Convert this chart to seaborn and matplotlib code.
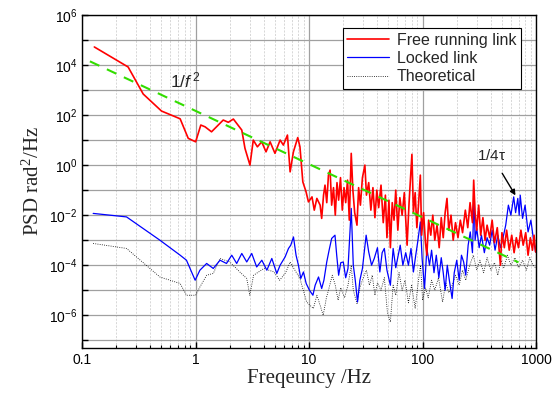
import numpy as np
import pandas as pd
import seaborn as sns
import matplotlib.pyplot as plt

# values: frequency (Hz) and log10 of PSD (rad^2/Hz)
free_f = [0.128, 0.254, 0.345, 0.50, 0.73, 0.86, 1.0, 1.11, 1.21, 1.38, 1.75, 1.94, 2.15, 2.55, 2.72,
          3.01, 3.22, 3.5, 3.82, 4.17, 4.53, 5.0, 5.55, 5.93, 6.44, 6.8, 7.27, 7.94, 8.3, 8.8, 9.4,
          9.86, 10.6, 11.1, 11.7, 12.5, 12.9, 13.4, 13.8, 14.3, 14.8, 15.3, 15.8, 16.4, 17.0, 17.6,
          18.2, 18.9, 19.6, 20.3, 21.0, 21.8, 22.6, 23.5, 24.3, 25.2, 26.4, 27.3, 28.3, 29.5, 31.0,
          32.0, 33.5, 35.0, 36.5, 38.0, 39.5, 41.0, 43.0, 45.0, 47.0, 48.5, 50.5, 52.0, 54.0, 56.0,
          58.0, 60.5, 63.0, 66.0, 69.0, 73.0, 76.0, 80.5, 83.0, 86.0, 89.0, 92.0, 95.5, 98.0, 102,
          106, 109, 113, 118, 123, 128, 134, 140, 146, 152, 158, 164, 170, 178, 186, 195, 205, 215,
          225, 238, 250, 262, 275, 282, 290, 300, 312, 325, 340, 355, 370, 390, 410, 430, 455, 485,
          500, 525, 550, 580, 610, 640, 670, 700, 735, 770, 810, 850, 890, 930, 960, 990]
free_logp = [4.72, 3.92, 2.84, 2.16, 1.85, 1.07, 0.93, 1.6, 1.53, 1.33, 1.8, 1.71, 1.84, 1.4, 0.67,
             0.0, 1.0, 0.73, 0.93, 0.53, 0.93, 0.47, 1.0, 0.8, 1.2, -0.27, 0.53, 1.1, 0.73, -0.67, -1.07,
             -1.47, -1.27, -1.8, -1.33, -1.6, -2.13, -1.2, -0.8, -1.5, -0.4, -0.2, -1.6, -0.9, -2.0, -0.7,
             -1.4, -0.5, -1.8, -0.9, -1.5, -0.6, -2.2, 0.47, -1.0, -1.9, -2.4, -0.9, -1.6, -0.5, 0.0,
             -1.2, -0.7, -1.8, -0.9, -2.1, -1.0, -1.7, -0.8, -2.3, -1.2, -2.9, -1.4, -3.3, -1.5, -2.2,
             -1.0, -2.6, -1.3, -2.0, -1.1, -3.2, -1.5, 0.43, -1.9, -1.1, -2.5, -1.6, -0.4, -2.8, -1.9,
             -3.1, -3.6, -2.2, -2.8, -2.0, -3.0, -2.4, -3.3, -2.1, -2.9, -1.9, -1.33, -2.6, -2.0, -3.0,
             -2.3, -2.9, -2.2, -2.7, -1.8, -2.5, -1.5, -2.3, -0.6, -1.9, -2.6, -1.6, -2.8, -2.1, -3.0,
             -2.4, -2.9, -2.2, -3.1, -2.5, -4.0, -2.7, -3.3, -2.6, -3.4, -2.8, -3.5, -2.9, -3.3, -2.6,
             -3.2, -2.7, -3.6, -2.9, -3.4, -2.8, -3.47]

locked_f = [0.125, 0.246, 0.484, 0.73, 0.83, 0.99, 1.09, 1.25, 1.43, 1.64, 1.87, 2.08, 2.3, 2.55,
            2.82, 3.12, 3.45, 3.83, 4.24, 4.69, 5.19, 5.55, 6.14, 6.58, 6.89, 7.28, 7.67, 8.05, 8.44,
            8.91, 9.42, 10.07, 10.8, 11.3, 12.1, 12.9, 13.5, 14.3, 15.0, 15.8, 16.9, 17.5, 18.2, 19.0,
            20.0, 21.0, 22.0, 23.5, 24.5, 25.5, 26.7, 28.0, 29.5, 31.8, 33.5, 35.5, 37.5, 40.0, 42.0,
            44.0, 46.0, 48.5, 52.0, 55.0, 58.0, 63.5, 67.0, 71.0, 75.0, 79.0, 83.0, 87.0, 91.0, 95.5,
            99.0, 104, 109, 115, 120, 126, 132, 139, 146, 152, 158, 165, 172, 182, 190, 200, 210, 220,
            230, 240, 252, 263, 275, 285, 290, 300, 315, 330, 350, 370, 390, 410, 435, 460, 485, 510,
            540, 570, 600, 635, 660, 690, 710, 725, 760, 800, 850, 900, 950, 990]
locked_logp = [-1.93, -2.07, -3.0, -3.6, -3.8, -4.6, -4.2, -3.93, -4.13, -3.8, -3.93, -3.6, -3.93, -3.53,
               -3.87, -3.53, -4.07, -3.8, -4.2, -3.73, -4.33, -4.0, -3.67, -3.33, -3.2, -2.87, -3.6, -4.0,
               -4.53, -4.27, -4.73, -5.0, -5.2, -4.8, -4.47, -4.93, -4.6, -3.87, -3.4, -2.93, -2.8, -3.6,
               -4.4, -3.9, -3.87, -4.5, -4.13, -1.73, -4.0, -4.6, -5.47, -4.6, -4.13, -2.8, -3.47, -4.0,
               -3.73, -3.3, -4.27, -3.5, -3.33, -4.2, -4.8, -3.33, -4.1, -3.2, -4.0, -3.5, -4.0, -3.33,
               -4.27, -3.6, -3.0, -2.27, -3.73, -4.93, -3.33, -4.0, -3.4, -4.3, -3.6, -4.5, -3.7, -4.3,
               -5.0, -4.0, -4.6, -5.33, -4.3, -3.8, -4.6, -3.6, -3.87, -4.4, -3.2, -2.67, -3.5, -1.0,
               -3.0, -2.53, -3.3, -2.8, -3.5, -2.9, -3.2, -2.6, -3.4, -2.8, -3.3, -2.93, -2.4, -1.6,
               -2.0, -1.27, -1.9, -1.33, -2.0, -1.2, -2.13, -1.6, -2.67, -2.2, -3.0, -3.47]

theory_f = [0.125, 0.246, 0.484, 0.73, 0.83, 1.0, 1.09, 1.25, 1.43, 1.64, 2.0, 2.45, 2.82, 3.0, 3.24,
            4.0, 4.9, 5.5, 6.2, 6.8, 7.5, 8.3, 9.5, 10.9, 11.7, 12.5, 13.3, 14.2, 15.0, 16.0, 17.0,
            18.0, 19.0, 20.5, 22.0, 23.5, 24.5, 26.4, 28, 30, 32, 34, 36, 38, 40, 43, 46, 49, 52, 55,
            58, 62, 66, 70, 75, 80, 86, 92, 96, 100, 106, 112, 120, 128, 138, 150, 160, 170, 182, 195,
            210, 225, 240, 260, 280, 300, 320, 345, 370, 400, 430, 460, 490, 520, 560, 600, 650, 700,
            760, 820, 880, 940, 990]
theory_logp = [-3.13, -3.33, -4.47, -4.73, -5.2, -5.2, -4.87, -4.4, -4.33, -3.73, -3.87, -4.27, -4.53,
               -5.2, -4.4, -4.13, -4.27, -4.6, -4.3, -3.87, -4.2, -4.53, -5.47, -5.73, -5.2, -5.6, -6.0,
               -5.3, -4.9, -4.4, -4.8, -5.4, -4.9, -5.3, -4.8, -4.0, -5.0, -5.53, -4.9, -4.5, -4.2, -4.8,
               -4.4, -5.2, -4.7, -5.0, -4.5, -5.9, -6.27, -4.8, -5.2, -4.3, -5.0, -4.6, -5.5, -4.8, -5.73,
               -4.6, -4.0, -5.4, -4.9, -5.3, -4.6, -5.0, -4.5, -5.47, -4.7, -5.1, -4.8, -4.4, -4.8, -4.2,
               -4.6, -4.0, -3.6, -4.2, -3.8, -4.3, -3.7, -4.2, -3.9, -4.4, -3.8, -4.1, -3.6, -4.0, -3.7,
               -4.1, -3.8, -4.2, -3.7, -4.0, -4.1]

# 1/f^2 guide line end points
guide_f = [0.117, 700]
guide_psd = [1.4e4, 1.3e-4]

sns.set_style("ticks")
plt.rcParams['font.family'] = ['Liberation Sans', 'DejaVu Sans']
plt.rcParams['mathtext.fontset'] = 'custom'
plt.rcParams['mathtext.rm'] = 'Liberation Sans'
plt.rcParams['mathtext.it'] = 'Liberation Sans:italic'

free = pd.DataFrame({'f': free_f, 'psd': 10 ** np.array(free_logp)})
locked = pd.DataFrame({'f': locked_f, 'psd': 10 ** np.array(locked_logp)})
theory = pd.DataFrame({'f': theory_f, 'psd': 10 ** np.array(theory_logp)})
guide = pd.DataFrame({'f': guide_f, 'psd': guide_psd})

fig = plt.figure(figsize=(5.59, 3.93), dpi=100)
ax = fig.add_axes([0.147, 0.115, 0.812, 0.847])
ax.set_xscale('log')
ax.set_yscale('log')

sns.lineplot(data=theory, x='f', y='psd', color='black', lw=0.6, ls=':', estimator=None, ax=ax,
             label='Theoretical')
sns.lineplot(data=locked, x='f', y='psd', color='#0000ff', lw=0.9, estimator=None, ax=ax,
             label='Locked link')
sns.lineplot(data=free, x='f', y='psd', color='#ff0000', lw=1.2, estimator=None, ax=ax,
             label='Free running link')
sns.lineplot(data=guide, x='f', y='psd', color='#33dd00', lw=1.5, ls=(0, (5, 4)), estimator=None,
             ax=ax, legend=False)

ax.set_xlim(0.1, 1000)
ax.set_ylim(10 ** -7.3, 1e6)

ax.set_xticks([0.1, 1, 10, 100, 1000])
ax.set_xticklabels(['0.1', '1', '10', '100', '1000'])
yt = [10.0 ** k for k in range(-7, 7)]
ax.set_yticks(yt)
ax.set_yticklabels([r'$\mathdefault{10^{%d}}$' % k if k % 2 == 0 else '' for k in range(-7, 7)])
ax.tick_params(axis='both', which='both', direction='in', labelsize=10, colors='black')
ax.tick_params(which='major', length=4, width=1)
ax.tick_params(which='minor', length=2, width=0.8)

ax.grid(True, which='major', color='#a0a0a0', lw=0.9, ls='-')
ax.grid(True, which='minor', color='#c8c8c8', lw=0.5, ls=(0, (3, 2)))
ax.set_axisbelow(True)
for s in ax.spines.values():
    s.set_color('black')
    s.set_linewidth(1.0)

ax.set_xlabel('Freqeuncy /Hz', family='Liberation Serif', fontsize=15, labelpad=2)
ax.set_ylabel(r'PSD rad$^{\mathdefault{2}}$/Hz', family='Liberation Serif', fontsize=15, labelpad=4)

ax.text(0.59, 10 ** 3.39, r'1/$f^{\,2}$', fontsize=12.5, ha='left', va='center')
ax.annotate(r'1/4$\mathdefault{\tau}$', xy=(658, 10 ** -1.21), xytext=(404, 10 ** 0.39),
            fontsize=11, ha='center', va='center',
            arrowprops=dict(arrowstyle='-|>', color='black', lw=1, shrinkA=6, shrinkB=0,
                            mutation_scale=8))

h, l = ax.get_legend_handles_labels()
order = [l.index('Free running link'), l.index('Locked link'), l.index('Theoretical')]
leg = ax.legend([h[i] for i in order], [l[i] for i in order], loc='upper right',
                bbox_to_anchor=(0.967, 0.961), fontsize=11.5, frameon=True, fancybox=False,
                edgecolor='black', framealpha=1, handlelength=2.6, borderpad=0.3, labelspacing=0.2,
                handletextpad=0.5, borderaxespad=0)
leg.get_frame().set_linewidth(0.8)

fig.savefig('out.png', dpi=100)
